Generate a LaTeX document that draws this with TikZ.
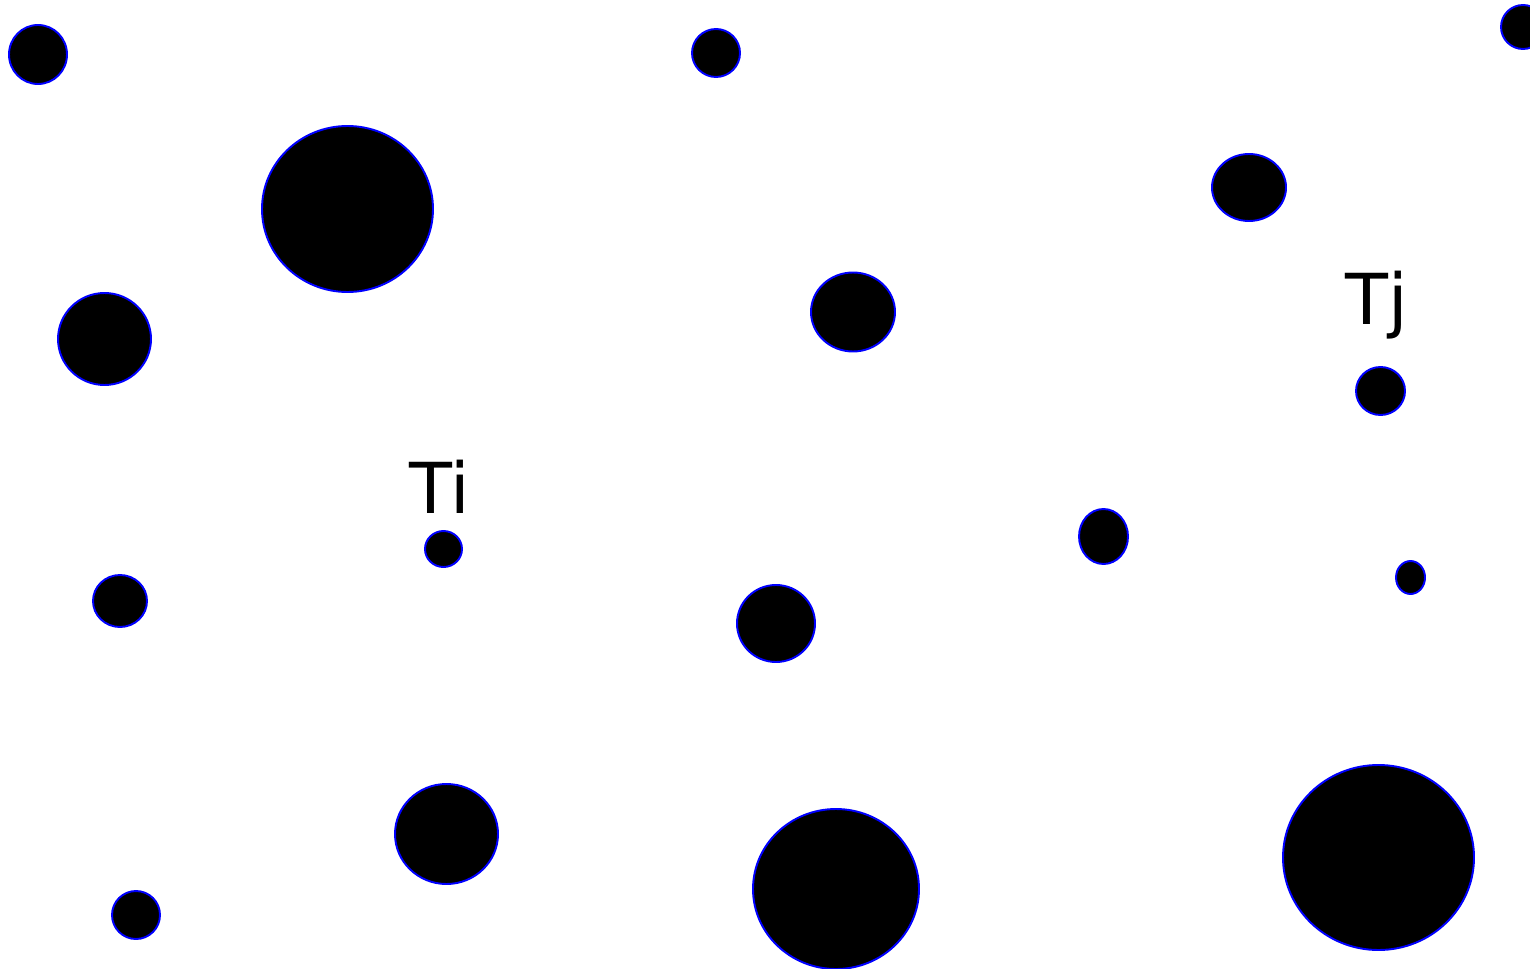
\documentclass[tikz,border=0pt]{standalone}
\usepackage{fontspec}
\setmainfont{DejaVu Sans}

\begin{document}
\begin{tikzpicture}[
  x=0.02cm,
  y=-0.02cm,
  grain/.style={fill=black, draw=blue, line width=1.1pt},
  tag/.style={font=\fontsize{40}{48}\selectfont, anchor=base west, inner sep=0pt}
]

\colorlet{grainFill}{black}
\colorlet{grainEdge}{blue}

% Frame of the picture
\useasboundingbox (0,0) rectangle (1530,969);

% Grains: centre, then x and y radius (pixels)
\draw[grain] (38,54.5) ellipse (29 and 29.5);
\draw[grain] (716,53) ellipse (24 and 24);
\draw[grain] (1523,27) ellipse (22 and 22);
\draw[grain] (347.5,209) ellipse (85.5 and 83);
\draw[grain] (1249,187.5) ellipse (37 and 33.5);
\draw[grain] (104.5,339) ellipse (46.5 and 46);
\draw[grain] (853,312) ellipse (42 and 39.5);
\draw[grain] (1380.5,391) ellipse (24.5 and 24);
\draw[grain] (443.5,549) ellipse (18.5 and 18);
\draw[grain] (1103.5,536.5) ellipse (24.5 and 27.5);
\draw[grain] (1410.5,577.5) ellipse (14.5 and 16.5);
\draw[grain] (120,601) ellipse (27 and 26);
\draw[grain] (776,623.5) ellipse (39 and 38.5);
\draw[grain] (446.5,834) ellipse (51.5 and 50);
\draw[grain] (836,889) ellipse (83 and 80);
\draw[grain] (1378.5,857.5) ellipse (95.5 and 92.5);
\draw[grain] (136,915) ellipse (24 and 24);

% Labels of the two marked grains
\node[tag] (Ti) at (409,513) {Ti};
\node[tag] (Tj) at (1345,324) {Tj};

\end{tikzpicture}
\end{document}
